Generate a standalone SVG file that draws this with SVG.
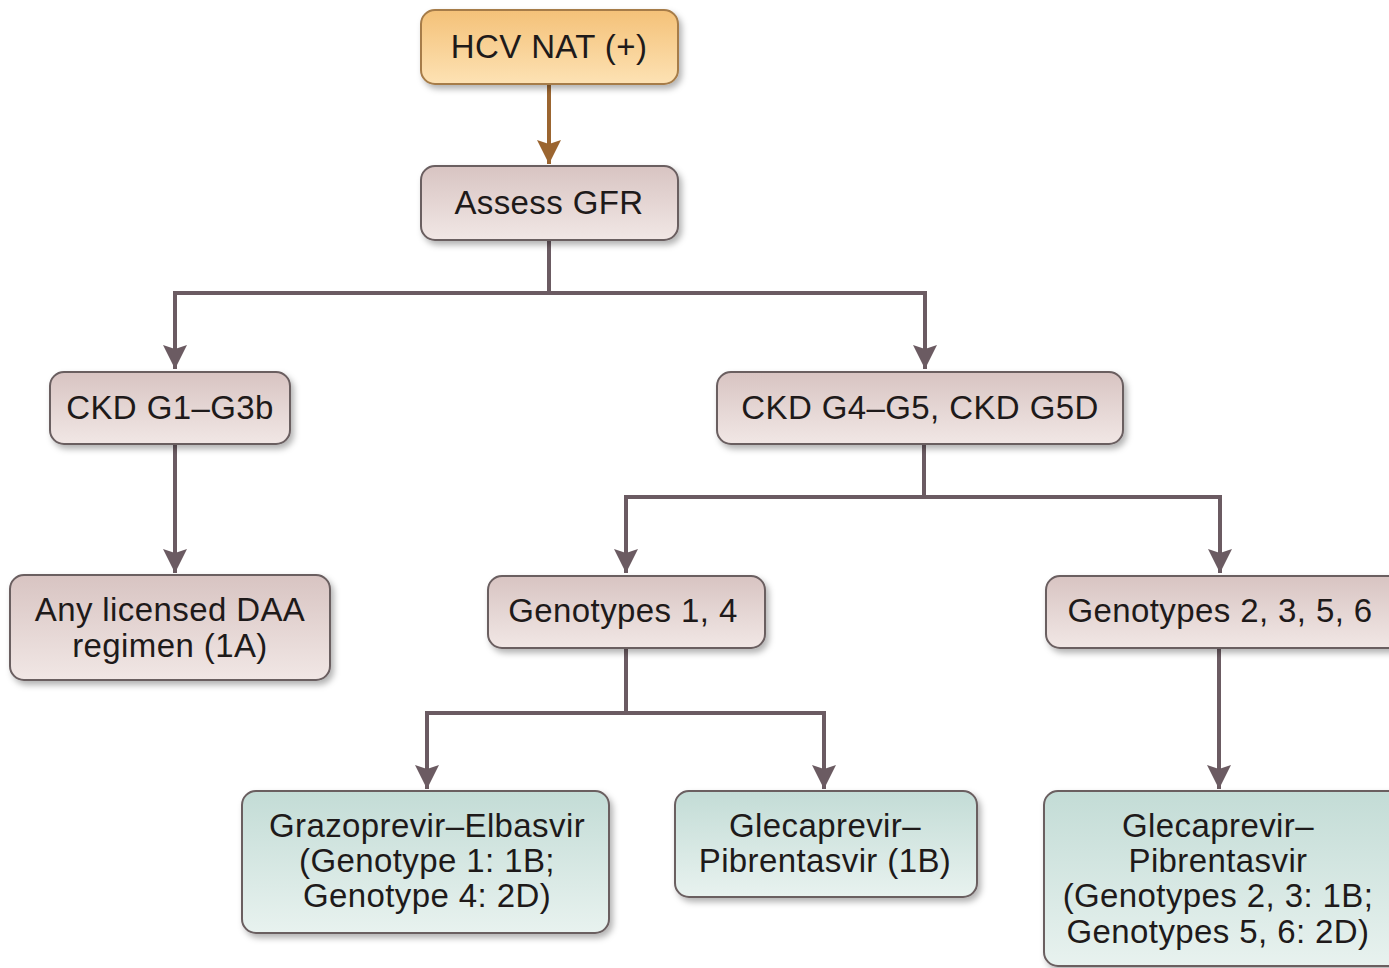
<svg xmlns="http://www.w3.org/2000/svg" width="1389" height="968" viewBox="0 0 1389 968">
<defs>
<linearGradient id="gOr" x1="0" y1="0" x2="0" y2="1"><stop offset="0" stop-color="#f4c178"/><stop offset="1" stop-color="#fde2b4"/></linearGradient>
<linearGradient id="gGr" x1="0" y1="0" x2="0" y2="1"><stop offset="0" stop-color="#d8c4c2"/><stop offset="1" stop-color="#f1e7e5"/></linearGradient>
<linearGradient id="gTe" x1="0" y1="0" x2="0" y2="1"><stop offset="0" stop-color="#c3dcd6"/><stop offset="1" stop-color="#e8f2ef"/></linearGradient>
<filter id="sh" x="-10%" y="-10%" width="125%" height="135%"><feDropShadow dx="3" dy="4" stdDeviation="3" flood-color="#000" flood-opacity="0.3"/></filter>
<marker id="ah" viewBox="0 0 24 24" refX="24" refY="12" markerWidth="24" markerHeight="24" markerUnits="userSpaceOnUse" orient="auto"><path d="M0,0 L24,12 L0,24 L4,12 Z" fill="#6b5b62"/></marker>
<marker id="ahb" viewBox="0 0 24 24" refX="24" refY="12" markerWidth="24" markerHeight="24" markerUnits="userSpaceOnUse" orient="auto"><path d="M0,0 L24,12 L0,24 L4,12 Z" fill="#9b6530"/></marker>
</defs>
<style>
.box{stroke:#6a5e60;stroke-width:2;filter:url(#sh)}
.or{fill:url(#gOr);stroke:#a67c48}
.gr{fill:url(#gGr)}
.te{fill:url(#gTe)}
text{font-family:"Liberation Sans",Arial,Helvetica,sans-serif;font-size:33px;letter-spacing:0.4px;fill:#1e1a1a;text-anchor:middle}
.c{fill:none;stroke:#6b5b62;stroke-width:4}
.cb{fill:none;stroke:#9b6530;stroke-width:4}
</style>
<rect width="1389" height="968" fill="#ffffff"/>
<g id="connectors">
<path class="cb" d="M549,84 V164" marker-end="url(#ahb)"/>
<path class="c" d="M549,240 V293 H175 V369" marker-end="url(#ah)"/>
<path class="c" d="M549,293 H925 V369" marker-end="url(#ah)"/>
<path class="c" d="M175,444 V573" marker-end="url(#ah)"/>
<path class="c" d="M924,444 V497 H626 V573" marker-end="url(#ah)"/>
<path class="c" d="M924,497 H1220 V573" marker-end="url(#ah)"/>
<path class="c" d="M626,648 V713 H427 V789" marker-end="url(#ah)"/>
<path class="c" d="M626,713 H824 V789" marker-end="url(#ah)"/>
<path class="c" d="M1219,648 V789" marker-end="url(#ah)"/>
</g>
<g id="hcv"><rect class="box or" x="421" y="10" width="257" height="74" rx="14"/><text x="549" y="58">HCV NAT (+)</text></g>
<g id="gfr"><rect class="box gr" x="421" y="166" width="257" height="74" rx="14"/><text x="549" y="214">Assess GFR</text></g>
<g id="ckd13"><rect class="box gr" x="50" y="372" width="240" height="72" rx="14"/><text x="170" y="419">CKD G1–G3b</text></g>
<g id="ckd45"><rect class="box gr" x="717" y="372" width="406" height="72" rx="14"/><text x="920" y="419">CKD G4–G5, CKD G5D</text></g>
<g id="anydaa"><rect class="box gr" x="10" y="575" width="320" height="105" rx="14"/><text x="170" y="621">Any licensed DAA</text><text x="170" y="657">regimen (1A)</text></g>
<g id="geno14"><rect class="box gr" x="488" y="576" width="277" height="72" rx="14"/><text x="623" y="622">Genotypes 1, 4</text></g>
<g id="geno2356"><rect class="box gr" x="1046" y="576" width="360" height="72" rx="14"/><text x="1220" y="622">Genotypes 2, 3, 5, 6</text></g>
<g id="grazo"><rect class="box te" x="242" y="791" width="367" height="142" rx="14"/><text x="427" y="837">Grazoprevir–Elbasvir</text><text x="427" y="872">(Genotype 1: 1B;</text><text x="427" y="907">Genotype 4: 2D)</text></g>
<g id="gleca1"><rect class="box te" x="675" y="791" width="302" height="106" rx="14"/><text x="825" y="837">Glecaprevir–</text><text x="825" y="872">Pibrentasvir (1B)</text></g>
<g id="gleca2"><rect class="box te" x="1044" y="791" width="362" height="175" rx="14"/><text x="1218" y="837">Glecaprevir–</text><text x="1218" y="872">Pibrentasvir</text><text x="1218" y="907">(Genotypes 2, 3: 1B;</text><text x="1218" y="943">Genotypes 5, 6: 2D)</text></g>
</svg>
